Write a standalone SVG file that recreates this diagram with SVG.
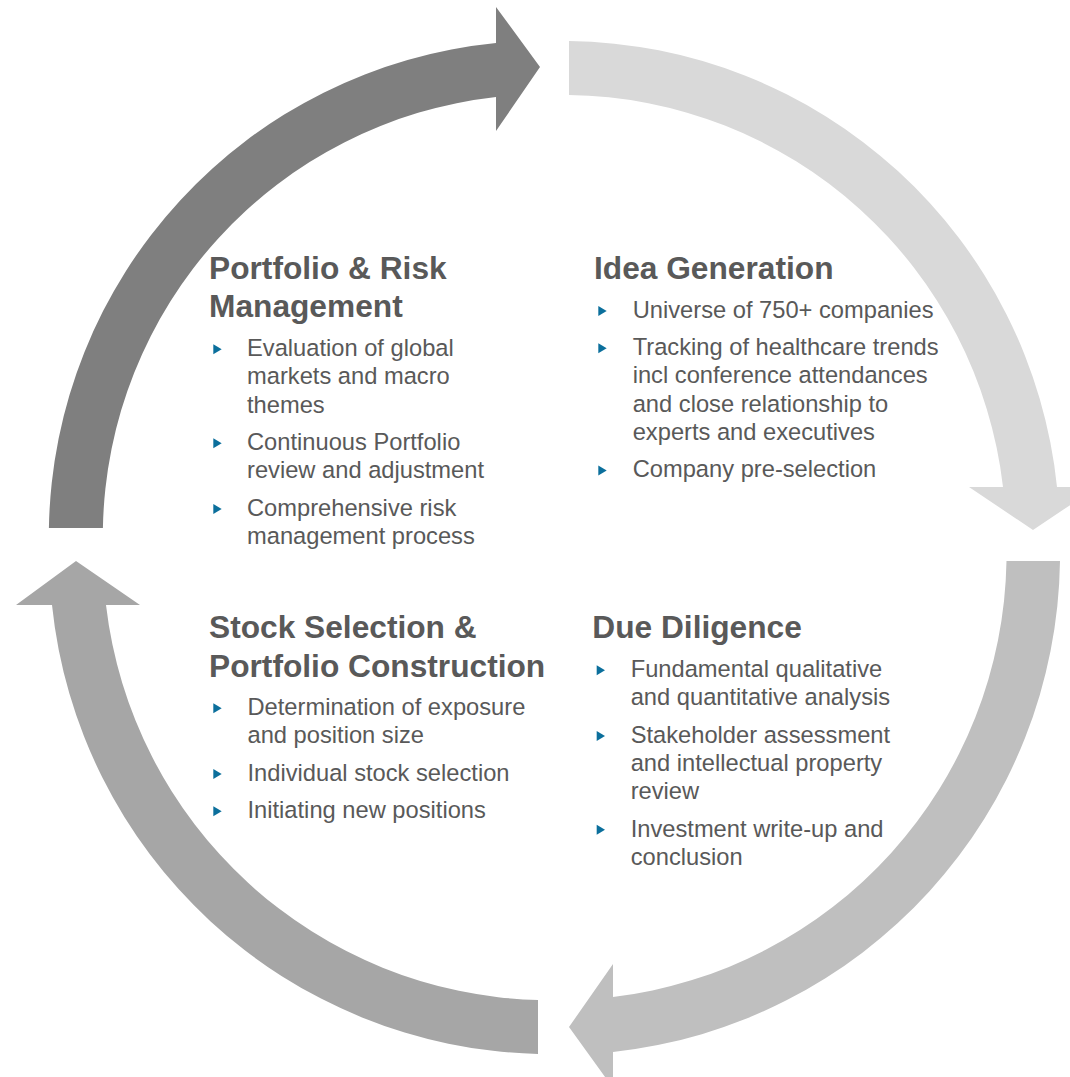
<svg xmlns="http://www.w3.org/2000/svg" width="1070" height="1077" viewBox="0 0 1070 1077">
  <style>
    .title { font-family: "Liberation Sans", Arial, sans-serif; font-weight: bold; font-size: 31.7px; fill: #595959; }
    .body { font-family: "Liberation Sans", Arial, sans-serif; font-size: 23.7px; fill: #595959; }
    .bullet { fill: #0b6f9c; }
  </style>
  <rect width="1070" height="1077" fill="#ffffff"/>
  <g id="connectors">
    <path id="arrow-top-left" fill="#7f7f7f" d="M 102.9,528 L 48.9,528 A 496 496 0 0 1 496,43 L 496,7 L 540,67 L 496,131 L 496,97 A 442 442 0 0 0 102.9,528 Z"/>
    <path id="arrow-top-right" fill="#d9d9d9" d="M 569,41 A 497 497 0 0 1 1057,487 L 1097,487 L 1033,530 L 969,487 L 1003,487 A 443 443 0 0 0 569,95 Z"/>
    <path id="arrow-bottom-right" fill="#bfbfbf" d="M 1060,561 A 501 501 0 0 1 613,1052 L 613,1088 L 569,1027 L 613,964 L 613,997 A 447 447 0 0 0 1006.5,561 Z"/>
    <path id="arrow-bottom-left" fill="#a6a6a6" d="M 538,1054 A 501 501 0 0 1 52,605 L 16,605 L 76,561 L 140,605 L 106,605 A 447 447 0 0 0 538,1000 Z"/>
  </g>

  <g id="node-portfolio-risk">
    <text class="title"><tspan x="209" y="279.3">Portfolio &amp; Risk</tspan><tspan x="209" y="316.7">Management</tspan></text>
    <path class="bullet" d="M213.3,344.3 L221.7,349.3 L213.3,354.3 Z"/>
    <path class="bullet" d="M213.3,438.3 L221.7,443.3 L213.3,448.3 Z"/>
    <path class="bullet" d="M213.3,504 L221.7,509 L213.3,514 Z"/>
    <text class="body">
      <tspan x="247" y="356">Evaluation of global</tspan>
      <tspan x="247" y="384.3">markets and macro</tspan>
      <tspan x="247" y="412.6">themes</tspan>
      <tspan x="247" y="450">Continuous Portfolio</tspan>
      <tspan x="247" y="478.3">review and adjustment</tspan>
      <tspan x="247" y="515.7">Comprehensive risk</tspan>
      <tspan x="247" y="544">management process</tspan>
    </text>
  </g>

  <g id="node-idea-generation">
    <text class="title"><tspan x="594" y="279.3">Idea Generation</tspan></text>
    <path class="bullet" d="M598.3,306 L606.7,311 L598.3,316 Z"/>
    <path class="bullet" d="M598.3,343.3 L606.7,348.3 L598.3,353.3 Z"/>
    <path class="bullet" d="M598.3,465.5 L606.7,470.5 L598.3,475.5 Z"/>
    <text class="body">
      <tspan x="632.7" y="317.7">Universe of 750+ companies</tspan>
      <tspan x="632.7" y="355">Tracking of healthcare trends</tspan>
      <tspan x="632.7" y="383.3">incl conference attendances</tspan>
      <tspan x="632.7" y="411.6">and close relationship to</tspan>
      <tspan x="632.7" y="439.9">experts and executives</tspan>
      <tspan x="632.7" y="477.2">Company pre-selection</tspan>
    </text>
  </g>

  <g id="node-stock-selection">
    <text class="title"><tspan x="209" y="638.3">Stock Selection &amp;</tspan><tspan x="209" y="676.7">Portfolio Construction</tspan></text>
    <path class="bullet" d="M213.3,703.3 L221.7,708.3 L213.3,713.3 Z"/>
    <path class="bullet" d="M213.3,768.9 L221.7,773.9 L213.3,778.9 Z"/>
    <path class="bullet" d="M213.3,806.2 L221.7,811.2 L213.3,816.2 Z"/>
    <text class="body">
      <tspan x="247.5" y="715">Determination of exposure</tspan>
      <tspan x="247.5" y="743.3">and position size</tspan>
      <tspan x="247.5" y="780.6">Individual stock selection</tspan>
      <tspan x="247.5" y="817.9">Initiating new positions</tspan>
    </text>
  </g>

  <g id="node-due-diligence">
    <text class="title"><tspan x="592.3" y="638.3">Due Diligence</tspan></text>
    <path class="bullet" d="M596.7,665.3 L605,670.3 L596.7,675.3 Z"/>
    <path class="bullet" d="M596.7,730.9 L605,735.9 L596.7,740.9 Z"/>
    <path class="bullet" d="M596.7,824.8 L605,829.8 L596.7,834.8 Z"/>
    <text class="body">
      <tspan x="630.7" y="677">Fundamental qualitative</tspan>
      <tspan x="630.7" y="705.3">and quantitative analysis</tspan>
      <tspan x="630.7" y="742.6">Stakeholder assessment</tspan>
      <tspan x="630.7" y="770.9">and intellectual property</tspan>
      <tspan x="630.7" y="799.2">review</tspan>
      <tspan x="630.7" y="836.5">Investment write-up and</tspan>
      <tspan x="630.7" y="864.8">conclusion</tspan>
    </text>
  </g>
</svg>
